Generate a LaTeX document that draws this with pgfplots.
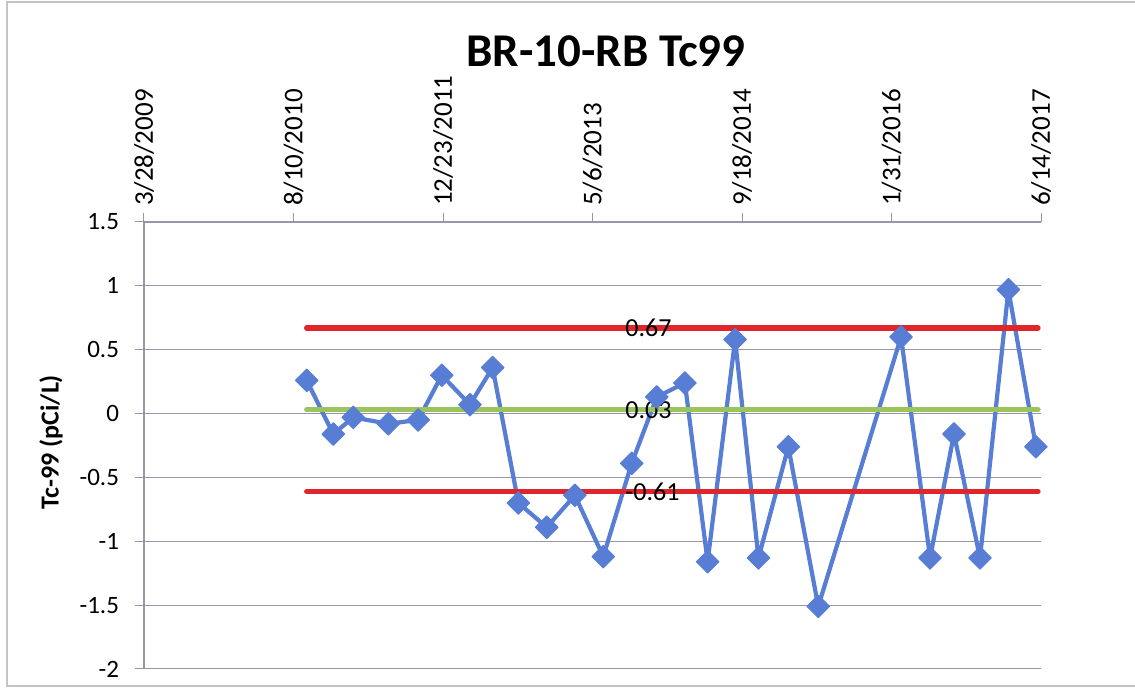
\documentclass[border=0pt]{standalone}
\usepackage{fontspec}
\setmainfont{Carlito}
\usepackage{pgfplots}
\pgfplotsset{compat=1.18}

\definecolor{tcblue}{RGB}{88,125,212}
\definecolor{limred}{RGB}{222,38,44}
\definecolor{meangreen}{RGB}{155,196,92}
\definecolor{gridgray}{RGB}{150,150,172}
\definecolor{framegray}{RGB}{195,195,205}

\begin{document}
\begin{tikzpicture}
\path[use as bounding box] (-72pt,-13.5pt) rectangle (495.5pt,334.5pt);
\draw[framegray, line width=0.8pt] (495.5pt,333.5pt) -- (-68.5pt,333.5pt) -- (-68.5pt,-8.5pt) -- (495.5pt,-8.5pt);
\begin{axis}[
  at={(0,0)}, anchor=south west,
  scale only axis, width=448.5pt, height=223.5pt,
  xmin=0, xmax=3000, ymin=-2, ymax=1.5,
  axis x line*=top, axis y line*=left,
  xtick={0,500,...,3000},
  xticklabels={3/28/2009,8/10/2010,12/23/2011,5/6/2013,9/18/2014,1/31/2016,6/14/2017},
  ytick={-2,-1.5,...,1.5},
  yticklabels={-2,-1.5,-1,-0.5,0,0.5,1,1.5},
  xticklabel style={rotate=90, anchor=west, font=\fontsize{13.5}{15}\selectfont},
  yticklabel style={font=\fontsize{12.5}{14}\selectfont, xshift=-4.5pt},
  /pgf/number format/assume math mode=true,
  tick align=outside, major tick length=4.5pt,
  tick style={gridgray, line width=0.5pt},
  axis line style={gridgray, line width=0.6pt},
  ymajorgrids, major grid style={gridgray, line width=0.5pt},
  clip=false,
]
% measured values, x = days since 3/28/2009
\addplot[tcblue, line width=2.1pt, line join=round, mark=square*, mark size=4pt,
  mark options={rotate=45, solid, fill=tcblue, draw=tcblue, line width=0.5pt}]
table {
544 0.26
633 -0.16
700 -0.03
817 -0.08
917 -0.05
996 0.30
1090 0.07
1166 0.36
1252 -0.70
1347 -0.89
1441 -0.64
1536 -1.12
1631 -0.39
1715 0.13
1809 0.24
1885 -1.16
1977 0.58
2055 -1.13
2155 -0.26
2255 -1.51
2532 0.60
2629 -1.13
2709 -0.16
2796 -1.13
2891 0.97
2983 -0.26
};
% control limits and mean
\addplot[limred, line width=2.6pt, line cap=round] coordinates {(544,0.67) (2990,0.67)};
\addplot[meangreen, line width=2.6pt, line cap=round] coordinates {(544,0.03) (2990,0.03)};
\addplot[limred, line width=2.6pt, line cap=round] coordinates {(544,-0.61) (2990,-0.61)};
\node[anchor=west, font=\fontsize{13}{15}\selectfont, inner sep=0pt] at (axis cs:1609,0.67) {0.67};
\node[anchor=west, font=\fontsize{13}{15}\selectfont, inner sep=0pt] at (axis cs:1609,0.03) {0.03};
\node[anchor=west, font=\fontsize{13}{15}\selectfont, inner sep=0pt] at (axis cs:1609,-0.61) {-0.61};
\end{axis}
\node[anchor=base, font=\bfseries\fontsize{23.5}{27}\selectfont] at (231pt,301pt) {BR-10-RB Tc99};
\node[rotate=90, font=\bfseries\fontsize{13}{15}\selectfont] at (-46.5pt,113.5pt) {Tc-99 (pCi/L)};
\end{tikzpicture}
\end{document}
